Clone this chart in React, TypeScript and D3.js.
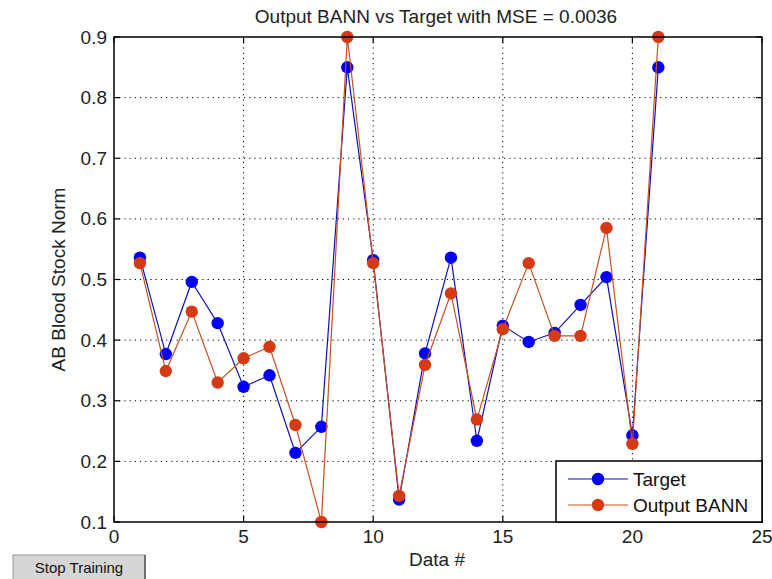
import React from "react";
import * as d3 from "d3";

const dataIndex = [1, 2, 3, 4, 5, 6, 7, 8, 9, 10, 11, 12, 13, 14, 15, 16, 17, 18, 19, 20, 21];
const targetValues = [0.536, 0.377, 0.496, 0.428, 0.323, 0.342, 0.214, 0.257, 0.85, 0.532, 0.137, 0.378, 0.536, 0.234, 0.424, 0.397, 0.412, 0.458, 0.504, 0.243, 0.85];
const outputValues = [0.527, 0.349, 0.447, 0.33, 0.37, 0.389, 0.26, 0.1, 0.9, 0.527, 0.143, 0.359, 0.477, 0.269, 0.418, 0.527, 0.407, 0.407, 0.585, 0.229, 0.9];
const xTicks = [0, 5, 10, 15, 20, 25];
const yTicks = [0.1, 0.2, 0.3, 0.4, 0.5, 0.6, 0.7, 0.8, 0.9];
const seriesNames = ["Target", "Output BANN"];
const titleText = "Output BANN vs Target with MSE = 0.0036";
const xLabel = "Data #";
const yLabel = "AB Blood Stock Norm";

const W = 772;
const H = 579;
const L = 114, R = 762, T = 37, B = 522;
const FONT = "'Liberation Sans', Arial, sans-serif";
const FS = 19;

const blueMarker = "#0000f5";
const blueLine = "#1010b8";
const redMarker = "#d63a14";
const redLine = "#c8501e";

export default function App() {
  const x = d3.scaleLinear().domain([0, 25]).range([L, R]);
  const y = d3.scaleLinear().domain([0.1, 0.9]).range([B, T]);
  const line = d3
    .line<[number, number]>()
    .x((d) => x(d[0]))
    .y((d) => y(d[1]));
  const tData = dataIndex.map((d, i) => [d, targetValues[i]] as [number, number]);
  const oData = dataIndex.map((d, i) => [d, outputValues[i]] as [number, number]);
  const tick = 6;
  const mr = 6.2;

  const legL = 556, legT = 461, legR = 762, legB = 522;
  const rows = [
    { name: seriesNames[0], line: blueLine, marker: blueMarker, y: 479 },
    { name: seriesNames[1], line: redLine, marker: redMarker, y: 505 },
  ];

  return (
    <svg width={W} height={H} style={{ position: "absolute", left: 0, top: 0, background: "#fff" }} fontFamily={FONT}>
      <rect x={0} y={0} width={W} height={H} fill="#fff" />
      {xTicks.slice(1, -1).map((t) => (
        <line key={"gx" + t} x1={x(t)} x2={x(t)} y1={T} y2={B} stroke="#000" strokeWidth={1} strokeDasharray="1.2,4" />
      ))}
      {yTicks.slice(1, -1).map((t) => (
        <line key={"gy" + t} x1={L} x2={R} y1={y(t)} y2={y(t)} stroke="#000" strokeWidth={1} strokeDasharray="1.2,4" />
      ))}
      {xTicks.map((t) => (
        <g key={"tx" + t}>
          <line x1={x(t)} x2={x(t)} y1={B} y2={B - tick} stroke="#000" strokeWidth={1.2} />
          <line x1={x(t)} x2={x(t)} y1={T} y2={T + tick} stroke="#000" strokeWidth={1.2} />
          <text x={x(t)} y={543} textAnchor="middle" fontSize={FS} fill="#222">{t}</text>
        </g>
      ))}
      {yTicks.map((t) => (
        <g key={"ty" + t}>
          <line x1={L} x2={L + tick} y1={y(t)} y2={y(t)} stroke="#000" strokeWidth={1.2} />
          <line x1={R} x2={R - tick} y1={y(t)} y2={y(t)} stroke="#000" strokeWidth={1.2} />
          <text x={107} y={y(t) + 6.5} textAnchor="end" fontSize={FS} fill="#222">{t.toFixed(1)}</text>
        </g>
      ))}
      <path d={line(tData) || ""} fill="none" stroke={blueLine} strokeWidth={1.2} />
      {tData.map((d, i) => (
        <circle key={"bt" + i} cx={x(d[0])} cy={y(d[1])} r={mr} fill={blueMarker} />
      ))}
      <path d={line(oData) || ""} fill="none" stroke={redLine} strokeWidth={1.2} />
      {oData.map((d, i) => (
        <circle key={"ro" + i} cx={x(d[0])} cy={y(d[1])} r={mr} fill={redMarker} />
      ))}
      <rect x={L} y={T} width={R - L} height={B - T} fill="none" stroke="#000" strokeWidth={1.5} />
      <rect x={legL} y={legT} width={legR - legL} height={legB - legT} fill="#fff" stroke="#000" strokeWidth={1.5} />
      {rows.map((r) => (
        <g key={r.name}>
          <line x1={568} x2={628} y1={r.y} y2={r.y} stroke={r.line} strokeWidth={1.2} />
          <circle cx={598} cy={r.y} r={mr} fill={r.marker} />
          <text x={633} y={r.y + 6.5} fontSize={FS} fill="#111">{r.name}</text>
        </g>
      ))}
      <text x={436} y={23} textAnchor="middle" fontSize={FS} fill="#222">{titleText}</text>
      <text x={437} y={566} textAnchor="middle" fontSize={FS} fill="#222">{xLabel}</text>
      <text transform={`translate(65, ${(T + B) / 2}) rotate(-90)`} textAnchor="middle" fontSize={FS} fill="#222">{yLabel}</text>
      <rect x={13} y={555} width={132} height={26} fill="#d6d6d6" stroke="#9a9a9a" strokeWidth={1} />
      <line x1={145} x2={145} y1={555} y2={579} stroke="#555" strokeWidth={1.5} />
      <text x={79} y={573} textAnchor="middle" fontSize={15} fill="#111">Stop Training</text>
    </svg>
  );
}
